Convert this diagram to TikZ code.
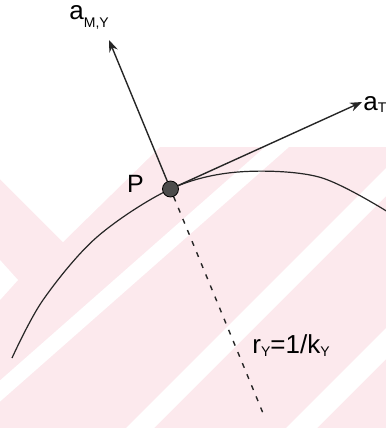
\documentclass[tikz,border=0pt]{standalone}
\usepackage{fontspec}
\setmainfont{Liberation Sans}
\usepackage{xcolor}
\usepackage{tikz}
\usetikzlibrary{arrows.meta, positioning, calc}
\definecolor{wmpink}{RGB}{252,233,237}
\tikzset{
    vecarrow/.style={line width=0.7pt, -{Stealth[length=6pt, width=4.5pt]}, color=black!85},
    radiusline/.style={line width=0.7pt, dash pattern=on 2.5pt off 3.5pt, color=black!85},
    pathcurve/.style={line width=0.6pt, color=black!85},
    pointdot/.style={circle, draw=black, fill=black!70, minimum size=8pt, inner sep=0pt},
    veclabel/.style={font=\fontsize{13}{15}\selectfont, inner sep=0pt},
    watermark/.style={fill=wmpink},
    stripe/.style={fill=white}
}
\newcommand{\lowsub}[2][1.5pt]{\raisebox{-#1}{\fontsize{7}{8}\selectfont #2}}

\begin{document}
\begin{tikzpicture}[x=0.5pt, y=-0.5pt]
    \useasboundingbox (0,0) rectangle (386,430);
    % faint background
    \fill [watermark] (0,147) rectangle (386,428);
    \fill [stripe] (0,147) -- (160,147) -- (63,242) -- (0,179) -- cycle;
    \fill [stripe] (0,260) -- (18,280) -- (0,300) -- cycle;
    \fill [stripe] (265,147) -- (289,147) -- (-30,428) -- (-54,428) -- cycle;
    \fill [stripe] (407,147) -- (435,147) -- (154,428) -- (126,428) -- cycle;
    \fill [stripe] (286,428) -- (317,428) -- (386,359) -- (386,328) -- cycle;

    \coordinate (Pc) at (170.5,189);
    \coordinate (tipN) at (109,40);
    \coordinate (tipT) at (362,102);
    \coordinate (ctr) at (265,418);
    \coordinate (cL) at (12,358);
    \coordinate (cR) at (388,212);

    % path of the point
    \draw [pathcurve] plot [smooth, tension=0.55] coordinates {(cL) (43,300) (97,237) (Pc) (238,172) (319,177) (cR)};
    \node (P) [pointdot] at (Pc) {};

    \draw [vecarrow] (P) -- (tipN);
    \draw [vecarrow] (P) -- (tipT);
    \draw [radiusline] (P) -- (ctr);

    \node (lblN) [veclabel, anchor=base west] at (69,19) {a\lowsub[4pt]{M,Y}};
    \node (lblT) [veclabel, anchor=base west] at (363,110) {a\lowsub[1pt]{T}};
    \node (lblP) [font=\fontsize{12.5}{14}\selectfont, inner sep=0pt] at (135.5,184) {P};
    \node (lblR) [anchor=base west, font=\fontsize{13}{15}\selectfont, inner sep=0pt] at (252,353) {r\lowsub{Y}=1/k\lowsub{Y}};
\end{tikzpicture}
\end{document}
